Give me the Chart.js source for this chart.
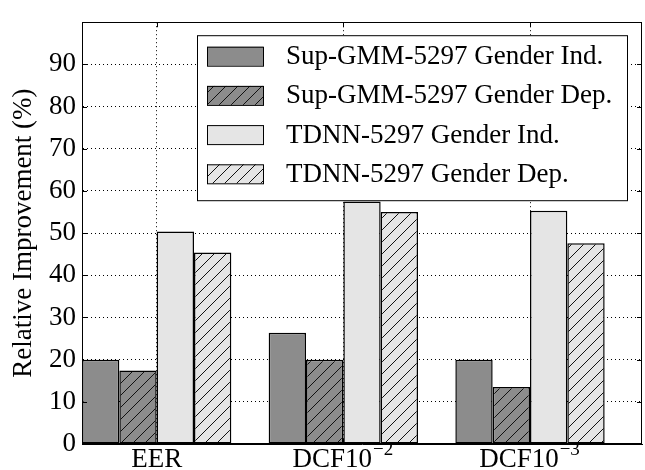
<!DOCTYPE html>
<html>
<head>
<meta charset="utf-8">
<script src="https://cdn.jsdelivr.net/npm/chart.js@4.4.1/dist/chart.umd.min.js"></script>
<style>
  html, body { margin: 0; padding: 0; background: #fff; }
  #wrap { width: 645px; height: 470px; }
</style>
</head>
<body>
<div id="wrap"><canvas id="chart" width="645" height="470"></canvas></div>
<script>
// values (relative improvement, %)
const categories = ['EER', 'DCF10⁻²', 'DCF10⁻³'];
const seriesNames = [
    'Sup-GMM-5297 Gender Ind.',
    'Sup-GMM-5297 Gender Dep.',
    'TDNN-5297 Gender Ind.',
    'TDNN-5297 Gender Dep.'
];
const supGmmInd = [20.0, 26.4, 20.0];
const supGmmDep = [17.4, 20.0, 13.5];
const tdnnInd = [50.4, 57.5, 55.3];
const tdnnDep = [45.4, 55.0, 47.6];
const yMin = 0, yMax = 100, yStep = 10;

const FONT = "'Liberation Serif', 'DejaVu Serif', serif";
const SIZE = 27;
const DARK = '#8c8c8c';
const LIGHT = '#e5e5e5';

// diagonal '/' hatch like matplotlib
function hatch(bg) {
    const s = 12;
    const c = document.createElement('canvas');
    c.width = s; c.height = s;
    const g = c.getContext('2d');
    g.fillStyle = bg;
    g.fillRect(0, 0, s, s);
    g.strokeStyle = '#111';
    g.lineWidth = 1;
    g.beginPath();
    g.moveTo(-1, s + 1); g.lineTo(s + 1, -1);
    g.moveTo(-1, 1); g.lineTo(1, -1);
    g.moveTo(s - 1, s + 1); g.lineTo(s + 1, s - 1);
    g.stroke();
    return g.createPattern(c, 'repeat');
}

const toPoints = vals => vals.map((v, i) => ({ x: i + 0.4, y: v }));

const fills = [DARK, hatch(DARK), LIGHT, hatch(LIGHT)];
const series = [supGmmInd, supGmmDep, tdnnInd, tdnnDep];

// split 'DCF10⁻²' into base text and a superscript drawn mathtext-style
const SUP = { '⁻': '\u2212', '⁰': '0', '¹': '1', '²': '2', '³': '3', '⁴': '4', '⁵': '5', '⁶': '6', '⁷': '7', '⁸': '8', '⁹': '9' };
function splitSup(label) {
    let i = label.length;
    while (i > 0 && SUP[label[i - 1]]) i--;
    return [label.slice(0, i), [...label.slice(i)].map(ch => SUP[ch]).join('')];
}

// box frame, inward ticks, x labels and the framed legend
const framePlugin = {
    id: 'frame',
    afterDraw(chart) {
        const { ctx, chartArea: a } = chart;
        const ys = chart.scales.y, xs = chart.scales.x;
        ctx.save();
        ctx.strokeStyle = '#000';
        ctx.lineWidth = 1;
        ctx.beginPath();
        ys.ticks.forEach(t => {
            const py = Math.round(ys.getPixelForValue(t.value)) + 0.5;
            ctx.moveTo(a.left, py); ctx.lineTo(a.left + 5, py);
            ctx.moveTo(a.right, py); ctx.lineTo(a.right - 5, py);
        });
        xs.ticks.forEach(t => {
            const px = Math.round(xs.getPixelForValue(t.value)) + 0.5;
            ctx.moveTo(px, a.bottom); ctx.lineTo(px, a.bottom - 5);
            ctx.moveTo(px, a.top); ctx.lineTo(px, a.top + 5);
        });
        ctx.stroke();
        ctx.strokeRect(Math.round(a.left) + 0.5, Math.round(a.top) + 0.5,
            Math.round(a.right - a.left) - 1, Math.round(a.bottom - a.top) - 1);

        // category labels with superscripts
        ctx.fillStyle = '#000';
        ctx.textBaseline = 'alphabetic';
        ctx.textAlign = 'left';
        xs.ticks.forEach((t, i) => {
            const [base, sup] = splitSup(categories[i]);
            const supSize = Math.round(SIZE * 0.72);
            ctx.font = SIZE + 'px ' + FONT;
            const wb = ctx.measureText(base).width;
            ctx.font = supSize + 'px ' + FONT;
            const ws = sup ? ctx.measureText(sup).width + 2 : 0;
            const x0 = xs.getPixelForValue(t.value) - (wb + ws) / 2;
            const yb = a.bottom + 23;
            ctx.font = SIZE + 'px ' + FONT;
            ctx.fillText(base, x0, yb);
            if (sup) {
                ctx.font = supSize + 'px ' + FONT;
                ctx.fillText(sup, x0 + wb + 1, yb - 12);
            }
        });

        // legend
        const bx = a.right - 445, by = a.top + 13, bw = 430, bh = 165;
        ctx.fillStyle = '#fff';
        ctx.fillRect(bx, by, bw, bh);
        ctx.strokeRect(bx + 0.5, by + 0.5, bw, bh);
        ctx.font = SIZE + 'px ' + FONT;
        ctx.textBaseline = 'middle';
        chart.data.datasets.forEach((ds, i) => {
            const cy = by + 21 + i * 39.2;
            ctx.fillStyle = ds.backgroundColor;
            ctx.fillRect(bx + 10, cy - 9.5, 56, 19);
            ctx.strokeRect(bx + 10.5, cy - 9, 56, 19);
            ctx.fillStyle = '#000';
            ctx.fillText(ds.label, bx + 89, cy + 1);
        });
        ctx.restore();
    }
};

new Chart(document.getElementById('chart'), {
    type: 'bar',
    data: {
        datasets: series.map((vals, i) => ({
            label: seriesNames[i],
            data: toPoints(vals),
            backgroundColor: fills[i],
            borderColor: '#000',
            borderWidth: 1.5,
            borderSkipped: false,
            categoryPercentage: 0.8,
            barPercentage: 1.0
        }))
    },
    options: {
        responsive: false,
        animation: false,
        layout: { padding: { top: 11, right: 3, left: 0, bottom: 0 } },
        plugins: { legend: { display: false }, tooltip: { enabled: false } },
        scales: {
            x: {
                type: 'linear',
                min: 0,
                max: categories.length,
                offset: false,
                z: 1,
                afterBuildTicks: s => { s.ticks = categories.map((c, i) => ({ value: i + 0.4 })); },
                afterFit: s => { s.height = 26; },
                ticks: { display: false, callback: (v, i) => categories[i] },
                grid: { offset: false, color: '#000', lineWidth: 1, drawTicks: false },
                border: { display: true, color: '#000', width: 1, dash: [1, 3] }
            },
            y: {
                min: yMin,
                max: yMax,
                z: 1,
                afterFit: s => { s.width = 82; },
                ticks: {
                    stepSize: yStep,
                    color: '#000',
                    font: { family: FONT, size: SIZE },
                    padding: 6,
                    callback: v => (v >= yMax ? '' : v)
                },
                grid: { color: '#000', lineWidth: 1, drawTicks: false },
                border: { display: true, color: '#000', width: 1, dash: [1, 3] },
                title: {
                    display: true,
                    text: 'Relative Improvement (%)',
                    color: '#000',
                    font: { family: FONT, size: SIZE },
                    padding: { top: 8, bottom: 0 }
                }
            }
        }
    },
    plugins: [framePlugin]
});
</script>
</body>
</html>
